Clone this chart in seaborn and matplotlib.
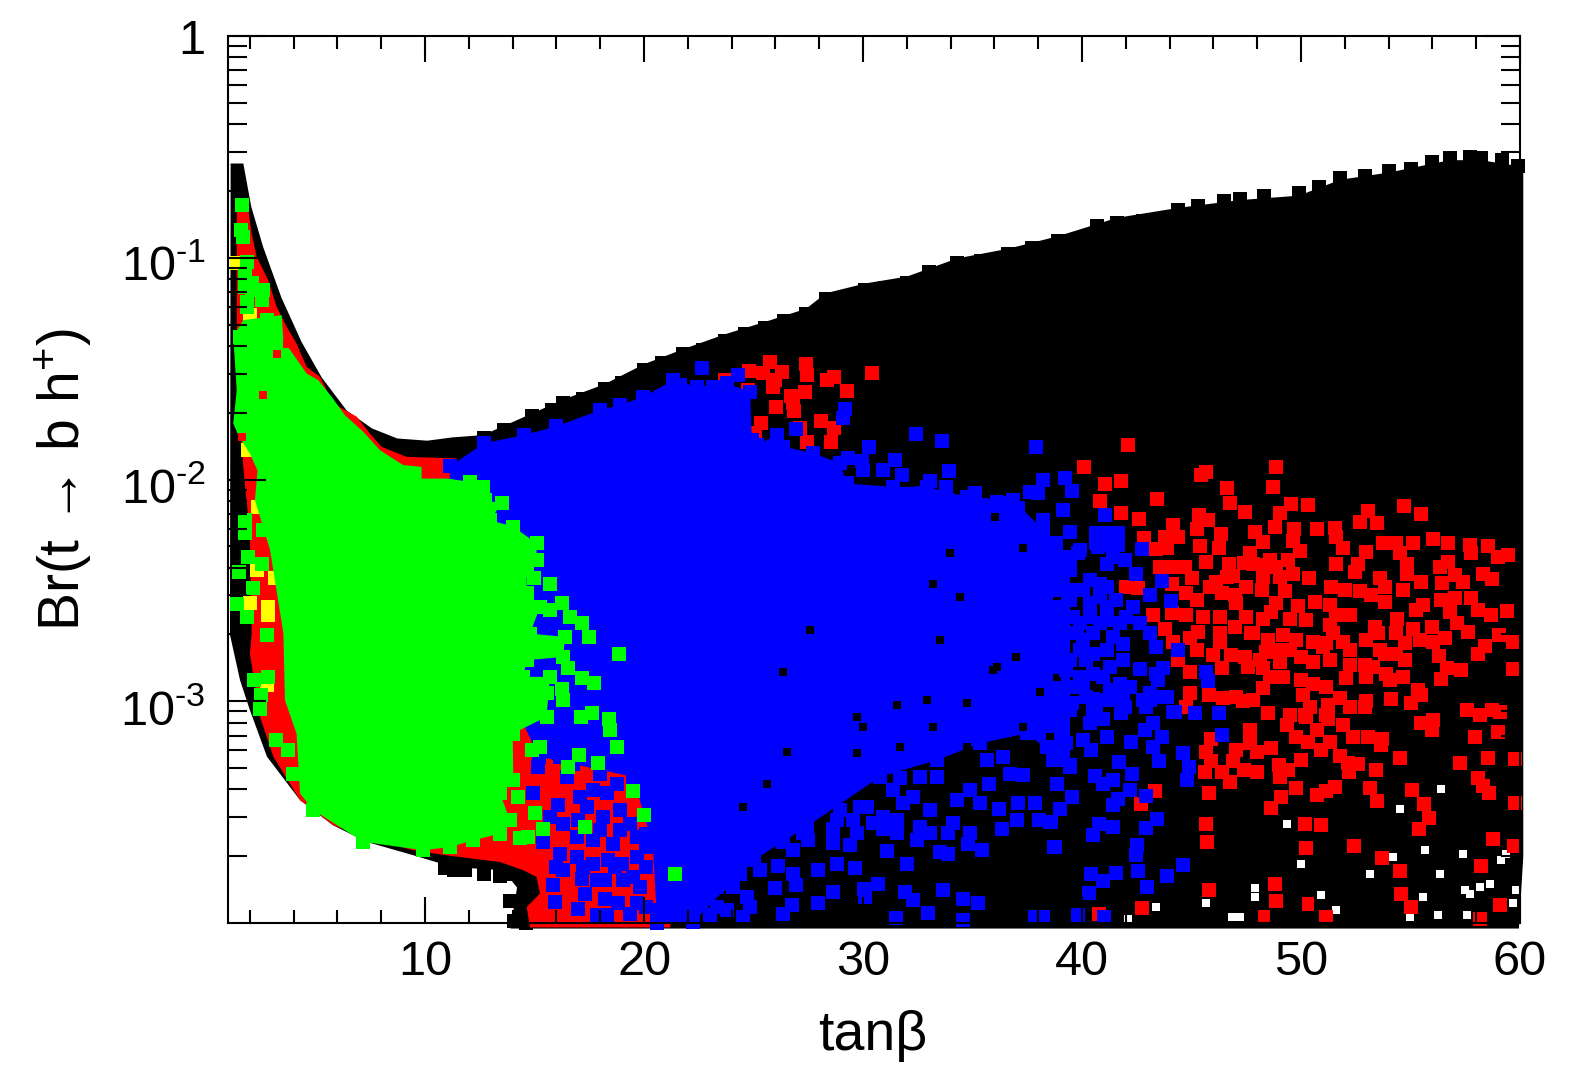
import numpy as np
import matplotlib
matplotlib.use("Agg")
import matplotlib.pyplot as plt
from matplotlib.ticker import FixedLocator, FixedFormatter, NullFormatter, LogLocator
from matplotlib.transforms import ScaledTranslation
import seaborn as sns

# all y values are log10(Br)

# filled outlines of the saturated regions
black_x = [1.12, 1.7, 2.06, 2.6, 3.44, 4.36, 5.28, 6.43, 7.58, 8.73, 10.1, 11.26, 12.64, 13.56, 14.94, 16.3, 18.2, 20, 21.85, 23.7, 25.5, 27.4, 28.3, 30.1, 32, 34.3, 36.6, 38.9, 41.6, 44.4, 47.2, 49.9, 51.8, 54, 56.8, 58.2, 60.15,
           60.15, 59.95, 13.9, 14.2, 13.56, 11.27, 9.45, 7.35, 5.79, 4.29, 2.78, 2.0, 1.55, 1.09]
black_logbr = [-0.575, -0.575, -0.769, -0.95, -1.18, -1.38, -1.54, -1.69, -1.77, -1.815, -1.825, -1.81, -1.80, -1.76, -1.70, -1.64, -1.57, -1.48, -1.41, -1.345, -1.29, -1.23, -1.16, -1.116, -1.085, -1.003, -0.96, -0.903, -0.82, -0.775, -0.74, -0.72, -0.648, -0.616, -0.56, -0.56, -0.59,
               -3.7, -4.025, -4.025, -3.84, -3.762, -3.748, -3.694, -3.635, -3.559, -3.446, -3.25, -3.04, -2.905, -2.70]

red_x = [1.4, 1.93, 2.08, 2.31, 2.84, 3.22, 3.68, 4.13, 4.59, 5.2, 5.81, 6.88, 7.48, 8.02, 9.16, 11.44, 11.14, 14, 21.2, 21.2, 14.79, 14.64, 15.25, 15.09, 14.48, 13.42, 10.98, 9.46, 7.18, 5.81, 4.29, 3.07, 2.46, 2.0, 2.08, 2.0, 1.75, 1.4]
red_logbr = [-0.785, -0.785, -0.89, -0.996, -1.101, -1.221, -1.311, -1.387, -1.492, -1.537, -1.657, -1.717, -1.793, -1.853, -1.898, -1.905, -2.033, -2.4, -3.4, -4.02, -4.02, -3.928, -3.867, -3.792, -3.762, -3.725, -3.695, -3.672, -3.612, -3.559, -3.446, -3.25, -3.07, -2.785, -2.695, -2.243, -2.0, -1.6]

blue_x = [11.14, 12.7, 14.5, 16, 18, 18.9, 19.97, 21.34, 22.4, 23.77, 24.84, 24.92, 25.14, 26.06, 26.36, 27.73, 28.95, 29.25, 31.38, 32.9, 34.73, 36.86, 38.23, 39.45,
          39.45, 37.47, 35.34, 33.36, 30.77, 27.42, 25, 22.25, 20.6, 20.4, 19.5, 15.2, 14, 11]
blue_logbr = [-1.94, -1.836, -1.8, -1.76, -1.687, -1.664, -1.627, -1.552, -1.582, -1.567, -1.604, -1.822, -1.845, -1.8, -1.852, -1.882, -1.927, -2.018, -2.033, -2.033, -2.078, -2.093, -2.228, -2.349,
              -3.296, -3.145, -3.19, -3.266, -3.341, -3.566, -3.717, -3.995, -4.0, -3.65, -3.341, -3.25, -3.0, -2.5]

green_x = [1.7, 3.45, 3.53, 4.06, 4.59, 5.12, 5.73, 6.34, 7.18, 7.94, 9, 9.84, 9.84, 11.06, 12.05, 12.66, 12.73, 13.5, 12.96, 14.03, 15.09, 15.09, 14.64, 14.64, 15.25, 14.79, 16.39, 16.31, 14.64, 14.48, 15.7, 15.55, 14, 14.03, 13.42, 13.88, 13.42, 12.2, 11.14, 9.92, 7.18, 4.9, 4.29, 4.13, 3.6, 3.53, 2.92, 2.23, 2.35, 2.0, 1.47, 1.24, 1.4, 1.24]
green_logbr = [-1.281, -1.259, -1.372, -1.447, -1.522, -1.552, -1.627, -1.71, -1.785, -1.868, -1.935, -1.943, -1.996, -1.996, -2.011, -2.033, -2.093, -2.108, -2.183, -2.213, -2.288, -2.364, -2.409, -2.514, -2.574, -2.695, -2.71, -2.8, -2.815, -2.89, -2.89, -3.07, -3.146, -3.356, -3.416, -3.537, -3.597, -3.627, -3.657, -3.672, -3.634, -3.491, -3.416, -3.146, -2.995, -2.694, -2.318, -2.093, -1.96, -1.883, -1.8, -1.747, -1.597, -1.357]

# jagged rim of the black band, upper side and the lower left clump
rim_x = [12.7, 13.6, 14.9, 15.8, 16.3, 17.2, 18.2, 19, 20, 20.8, 21.8, 22.7, 23.7, 24.6, 25.5, 26.4, 27.4, 28.3, 29.2, 30.1, 31, 32, 33, 34.3, 35.4, 36.6, 37.7, 38.9, 39.8, 40.7, 41.6, 42.8, 44.4, 45.3, 46.5, 47.2, 48.3, 49.9, 50.8, 51.8, 52.9, 54, 55, 56, 56.8, 57.7, 58.2, 59.2, 59.9,
         14, 14.4, 13.9, 14.5, 14.05, 14.6, 12.7, 11.8, 11.3, 10.9, 13.4]
rim_logbr = [-1.815, -1.775, -1.715, -1.685, -1.655, -1.635, -1.59, -1.565, -1.505, -1.475, -1.435, -1.415, -1.375, -1.345, -1.315, -1.285, -1.255, -1.185, -1.175, -1.145, -1.135, -1.115, -1.065, -1.025, -1.015, -0.985, -0.955, -0.925, -0.915, -0.855, -0.845, -0.835, -0.785, -0.765, -0.745, -0.735, -0.72, -0.71, -0.68, -0.64, -0.63, -0.61, -0.60, -0.57, -0.55, -0.545, -0.55, -0.56, -0.585,
             -3.78, -3.79, -3.9, -3.9, -3.99, -4.0, -3.78, -3.76, -3.76, -3.75, -3.79]

# holes in the black cloud, bottom right
hole_x = [54.51, 49.34, 47.89, 47.89, 45.68, 46.83, 47.2, 50, 53.14, 54.2, 57.4, 55.58, 56.34, 57.71, 58.62, 59.38, 59.69, 59.8, 57.56, 56.26, 54.97, 51.62, 50.93, 43.4, 42.11, 56.41, 55.65, 59.15, 58.16, 57.48]
hole_logbr = [-3.484, -3.555, -3.882, -3.84, -3.912, -3.973, -3.973, -3.732, -3.777, -3.702, -3.687, -3.882, -3.777, -3.867, -3.822, -3.687, -3.912, -3.85, -3.965, -3.965, -3.973, -3.943, -3.875, -3.928, -3.98, -3.394, -3.669, -3.717, -3.837, -3.852]

red_pts_x = [42.12, 40.10, 41.07, 41.8, 40.8, 43.43, 41.8, 42.6, 45.65, 45.45, 48.88, 48.7, 46.64, 46.76, 47.46, 49.52, 50.33, 49.03, 48.8, 49.69, 50.74, 53.08, 54.71, 55.5, 52.69, 53.48, 51.54, 51.62, 55.12, 54.36, 53.75, 56.03, 56.72, 57.7, 58.54, 59.46, 57.74, 59, 44.16, 44.39, 43.78, 45.33, 45.76, 45.23, 46.34, 45.38, 46.26, 47.89, 48.27, 47.66, 49.64, 49.95, 43.4, 43.86, 42.82, 45.64, 46.7, 47.4, 48.27, 49.41, 48.88, 51.62, 52.6, 52.46, 52.99, 51.92, 54.51, 54.82, 54.82, 56.34, 56.72, 57.02, 57.4, 56.45, 58.32, 58.74, 50.36, 49.64, 49.03, 43.55, 44.16, 44.69, 45, 44.09, 42.03, 42.56, 46.14, 46.9, 46.37, 46.98, 47.51, 48.23, 49.26, 51.39, 52, 52.69, 53.6, 53.83, 53.2, 54.66, 55.5, 53.83, 55.58, 55.23, 56.41, 57.02, 56.8, 57.78, 58.09, 58.67, 59.41, 57.13, 57.64, 54.39, 55.12, 55.96, 55.43, 56.03, 56.57, 59.05, 59.66, 58.42, 58.09, 56.29, 56.67, 57.31, 56.37, 59.69, 51.62, 52.23, 51.32, 50.63, 49.84, 48.88, 48.65, 48.27, 50.22, 49.49, 51.32, 53.37, 54.36, 53.52, 52.99, 54.74, 51.92, 51.16, 50.55, 49.79, 49.19, 48.5, 48.42, 47.72, 46.98, 46.3, 45.53, 44.77, 44.09, 43.25, 43.78, 44.92, 45.3, 46.3, 46.32, 44.16, 45.23, 45.99, 46.82, 47.43, 46.37, 47.59, 48.27, 49.03, 50, 50.55, 51.32, 52.23, 52.92, 52.23, 53.83, 54.74, 53.9, 54.66, 54.05, 52.99, 52.04, 44.92, 44.39, 48.58, 48.27, 49.19, 50, 50.55, 51.16, 50.1, 51.77, 55.32, 55.5, 54.09, 55.04, 44.92, 45.79, 46.45, 47.05, 47.36, 47.81, 44.77, 52.23, 52.92, 50.4, 51.24, 48.48, 49.5, 50.17, 51.16, 57.56, 58.17, 58.7, 59.08, 52.99,
             47.66, 55.5, 56.03, 55.96, 57.94, 59, 49.34, 50.25, 51.24, 51.92, 50.71, 49.79, 50.33, 51.32, 52.38, 53.07, 53.72, 53.64, 50.89, 48.62, 47.97, 47.66, 47.05, 45.68, 45.91, 45.88, 46.9, 47.39, 46.37, 45.61, 46.76, 51.8, 52.15, 52.61, 52.18, 49.98, 48.99, 48, 49.4, 49.03, 53.42, 54.51, 57.25, 58.55, 58.06, 58.32, 58.59, 59.76, 59.76, 49.76, 51.54, 51.16, 50.75, 53.14, 53.48, 55.09, 55.62, 55.84, 55.4, 49.09, 48.62, 45.8, 43.34, 42.67, 45.68, 45.71, 50.17, 50.93, 50.22, 52.41, 53.7, 54.54, 58.77, 59.72, 58.2, 48.83, 48.88, 45.8, 54.56, 55.04, 50.28, 59.08, 42.73, 40.78, 48.27, 51.16, 58.16,
             24.81, 25.75, 25.45, 26.29, 25.98, 25.9, 27.38, 27.43, 23.7, 28.34, 28.69, 30.43, 29.28, 27.35, 24.76, 26.71, 26.01, 26.82, 26.86, 25.33, 28.07, 28.68, 28.54, 25.07, 27.12, 27.43, 26.9, 40.1,
             47.81, 48.58, 48.27, 46.6, 45.84, 44.77, 45.23, 47.05, 47.51, 47.81, 48.88, 48.12, 49.49, 51.01, 53.6, 54.36, 53.29, 51.47]
red_pts_logbr = [-1.845, -1.943, -2.021, -2.007, -2.099, -2.087, -2.153, -2.18, -1.965, -1.98, -1.945, -2.036, -2.04, -2.108, -2.148, -2.11, -2.114, -2.153, -2.213, -2.224, -2.221, -2.141, -2.118, -2.157, -2.19, -2.195, -2.22, -2.258, -2.285, -2.285, -2.288, -2.269, -2.285, -2.296, -2.3, -2.341, -2.33, -2.351, -2.206, -2.258, -2.258, -2.16, -2.183, -2.225, -2.248, -2.3, -2.308, -2.236, -2.281, -2.333, -2.276, -2.321, -2.315, -2.311, -2.266, -2.371, -2.383, -2.376, -2.386, -2.363, -2.394, -2.382, -2.379, -2.416, -2.326, -2.311, -2.333, -2.379, -2.424, -2.394, -2.371, -2.431, -2.464, -2.466, -2.424, -2.449, -2.442, -2.424, -2.439, -2.394, -2.394, -2.394, -2.446, -2.469, -2.484, -2.491, -2.464, -2.436, -2.514, -2.521, -2.484, -2.499, -2.502, -2.484, -2.499, -2.502, -2.446, -2.484, -2.521, -2.499, -2.461, -2.551, -2.567, -2.589, -2.544, -2.536, -2.596, -2.536, -2.589, -2.609, -2.594, -2.649, -2.687, -2.631, -2.676, -2.667, -2.724, -2.732, -2.717, -2.702, -2.732, -2.751, -2.785, -2.795, -2.852, -2.86, -2.9, -2.855, -2.612, -2.612, -2.567, -2.554, -2.571, -2.559, -2.597, -2.631, -2.634, -2.627, -2.657, -2.664, -2.694, -2.694, -2.724, -2.739, -2.732, -2.739, -2.732, -2.724, -2.702, -2.724, -2.777, -2.694, -2.664, -2.619, -2.619, -2.612, -2.604, -2.612, -2.672, -2.717, -2.687, -2.694, -2.732, -2.732, -2.769, -2.792, -2.792, -2.8, -2.852, -2.845, -2.852, -2.822, -2.8, -2.822, -2.815, -2.837, -2.837, -2.77, -2.785, -2.815, -2.875, -2.89, -2.905, -2.89, -2.894, -2.867, -2.815, -2.89, -2.942, -2.89, -2.905, -2.92, -2.935, -2.972, -2.987, -2.95, -2.972, -2.99, -3.01, -2.965, -2.972, -2.987, -2.98, -3.0, -2.995, -3.025, -3.025, -3.028, -3.025, -3.017, -3.055, -3.063, -3.063, -3.063, -3.04, -3.063, -3.04, -3.047, -3.0,
                 -3.13, -3.1, -3.085, -3.13, -3.16, -3.138, -3.108, -3.07, -3.078, -3.108, -3.13, -3.16, -3.183, -3.183, -3.16, -3.16, -3.168, -3.198, -3.221, -3.213, -3.228, -3.19, -3.221, -3.228, -3.168, -3.27, -3.27, -3.311, -3.321, -3.319, -3.364, -3.248, -3.278, -3.285, -3.319, -3.266, -3.288, -3.319, -3.311, -3.341, -3.311, -3.258, -3.278, -3.255, -3.346, -3.383, -3.412, -3.261, -3.457, -3.389, -3.386, -3.406, -3.421, -3.389, -3.449, -3.401, -3.464, -3.526, -3.577, -3.434, -3.482, -3.413, -3.404, -3.464, -3.552, -3.634, -3.555, -3.558, -3.66, -3.654, -3.709, -3.765, -3.622, -3.652, -3.743, -3.822, -3.9, -3.852, -3.867, -3.928, -3.916, -3.92, -3.932, -3.958, -3.973, -3.973, -3.98,
                 -1.509, -1.469, -1.521, -1.514, -1.552, -1.582, -1.481, -1.529, -1.552, -1.552, -1.536, -1.52, -1.6, -1.604, -1.597, -1.622, -1.675, -1.657, -1.691, -1.743, -1.737, -1.767, -1.83, -1.792, -1.77, -1.83, -1.935, -1.943,
                 -2.379, -2.363, -2.439, -2.439, -2.484, -2.514, -2.544, -2.559, -2.619, -2.694, -2.77, -2.815, -2.77, -2.755, -2.77, -2.785, -2.845, -2.694]

yellow_x = [2.39, 2.0, 2.84, 2.84, 2.31, 3.15, 2.77, 13.27, 1.93, 1.4, 2.0]
yellow_logbr = [-2.123, -2.559, -2.574, -2.612, -2.409, -2.446, -2.927, -2.153, -1.865, -1.023, -1.259]

# black gaps left inside the blue mass
gap_x = [27.58, 26.36, 35.95, 37, 33.51, 38.84, 38.08, 32.9, 34.73, 31.53, 30, 29.71, 33.21, 37.32, 31.69, 29.71, 26.51, 34.73, 36.1, 38.53, 24.53, 25.6, 33.97, 36.03, 37.32, 38.84, 34.43, 33.21]
gap_logbr = [-2.679, -2.867, -2.86, -2.8, -2.724, -2.89, -2.957, -2.995, -3.01, -3.017, -3.115, -3.07, -3.115, -3.115, -3.205, -3.235, -3.228, -3.205, -2.845, -3.16, -3.476, -3.371, -2.33, -2.168, -2.311, -2.544, -2.529, -2.469]

blue_pts_x = [46.25, 45.18, 46.37, 44.62, 44.89, 44.8, 43.52, 42.29, 41.68, 42.23, 43.25, 43.63, 42.87, 41.42, 40.96, 40.58, 42.18, 42.9, 41.62, 41.42, 39.52, 38.99, 38.6, 43.43, 42.94, 40.78, 41.42, 40.51, 42.49, 42.46, 38.76, 44.59, 42.56, 43.89, 41.57, 40.97, 40.4, 42.97, 40.31, 39.82, 41, 39.44, 38.83, 39.29, 40.05, 40.43, 41.12, 40.36, 40.97, 39.52, 40.51, 41.57, 41.88, 43.1, 43.86, 44.24, 43.25, 38.91, 39.14,
              39.21, 39.52, 39.11, 41.04, 39.44, 42.76, 43.66, 43.1, 44.07, 42.46, 44.36, 42.64, 43.4, 45.68, 45.76, 40.66, 41.19, 41.65, 40.66, 41.19, 41.65, 41.42, 41.95, 41.12, 38.83, 39.82, 39.29, 39.44, 40.36, 40.81, 40.05, 40.81, 41.57, 38.99, 39.44, 42.34, 42.03, 41.12, 40.36, 39.6, 38.83, 42.64, 43.1, 41.88, 41.42, 40.51, 39.75, 38.99, 40.51, 39.9, 39.14, 41.88, 41.27, 40.51, 39.9, 39.29, 38.68, 41.73, 42.18, 41.27, 40.2, 39.44, 38.83, 43.1, 43.71, 43.4, 43.71, 43.48, 42.94, 41.95, 40.97, 44.16, 41.8, 40.51,
              38.68, 39.6, 41.12, 40.36, 41.12, 38.99, 39.9, 40.81, 41.73, 39.14, 40.05, 41.12, 39.44, 40.2, 40.97, 40.05, 41.88, 40.66, 39.44, 42.79,
              35.76, 36.22, 37.09, 37.85, 37.01, 36.36, 38.05, 38.53, 39, 38.84, 38.73, 35.41, 34.88, 34.81, 33.89, 33.51, 33.89, 32, 31.08, 29.63, 28.79, 27.96, 26.13, 26.81, 26.94, 25.98, 28.64, 27.96, 26.74, 26.36, 30.06, 30.67, 30.09, 31.91, 32.26, 33.66, 32.98, 34.58, 35.26, 31.49, 34.58, 37.85, 38.2, 31.69, 31.53, 31.56, 30.47, 30.92, 29.71, 29.4, 28.64, 28.64, 27.42, 27.5, 26.36, 25.6, 24.38, 24.68, 25.29, 24.38, 23.31, 23.77, 22.55, 22.55, 24.68, 24.84, 23.77, 24.53, 23, 22.25, 32.29, 32.6, 32.45, 33.06, 34.12, 34.27, 34.88, 35.34, 35.64, 36.71, 37.32, 38.69, 38.38, 36.4, 33.36, 32.6, 31.38, 29.86, 28.95, 28.03,
              25.29, 26.21, 26.81, 27.27, 28.03, 28.79, 29.55, 30.16, 30.92, 31.84, 33.06, 23.47, 22.7, 23.47, 24.08, 21.94, 21.18, 20.57, 21.94, 23.31, 24.08,
              22.63, 24.31, 21.64, 23.13, 23.7, 24.54, 29.18, 29.1, 26.94, 32.4, 33.59, 30.27, 37.9, 29.3, 29.94, 31.46, 33.94, 30.01, 30.93, 31.76, 33.06, 33.77, 32.68, 35.11, 36.1, 38.23, 37.62, 38, 39.22, 39.53, 37.09, 39.12, 38.23, 39.45, 40.67, 40.74, 39.91, 36.41, 33.82,
              14.94, 16.08, 15.7, 16.31, 17, 15.4, 16.16, 16, 16.92, 15.85, 15.93, 17, 17.83, 18.22, 17.15, 17.68, 18.37, 18.98, 18.22, 19.05, 18.82, 19.66, 19.81, 19.66, 19.66, 18.59, 17.68, 18.14, 17.07, 18.29, 17.68, 19.36, 16.46, 16.16, 15.17,
              17.3, 20.1, 20.1, 20.1, 19.36, 18.29, 16.31, 17.22, 18.67, 17.83, 19.51, 20.1, 18.9, 17.99, 16.92, 18.9, 17.38, 18.75, 16.77, 17.99, 19.36, 19.97]
blue_pts_logbr = [-3.055, -3.055, -3.153, -3.233, -3.296, -3.356, -3.269, -3.326, -3.276, -3.186, -3.206, -3.161, -3.131, -3.356, -3.371, -3.337, -3.401, -3.427, -3.442, -3.469, -3.431, -3.487, -3.544, -3.529, -3.57, -3.552, -3.567, -3.604, -3.649, -3.694, -3.657, -3.74, -3.765, -3.789, -3.774, -3.81, -3.779, -3.837, -3.863, -3.962, -3.973, -3.288, -3.266, -3.19, -3.176, -3.221, -3.161, -3.1, -3.078, -3.01, -2.988, -2.995, -2.95, -2.995, -2.98, -3.048, -3.1, -3.1, -2.98,
                  -1.991, -2.051, -2.138, -2.158, -2.236, -2.315, -2.458, -2.52, -2.548, -2.427, -2.767, -2.855, -2.755, -2.87, -2.909, -2.243, -2.243, -2.243, -2.288, -2.296, -2.296, -2.349, -2.364, -2.379, -2.288, -2.333, -2.364, -2.409, -2.454, -2.469, -2.499, -2.529, -2.544, -2.499, -2.544, -2.574, -2.619, -2.634, -2.619, -2.619, -2.604, -2.649, -2.694, -2.74, -2.709, -2.694, -2.694, -2.679, -2.785, -2.77, -2.77, -2.815, -2.845, -2.875, -2.89, -2.86, -2.845, -2.92, -2.935, -2.95, -2.98, -2.935, -2.965, -2.965, -2.98, -2.875, -2.852, -2.905, -3.025, -3.025, -2.995, -3.048, -3.055, -3.055,
                  -2.454, -2.499, -2.484, -2.559, -2.574, -2.574, -2.649, -2.649, -2.649, -2.709, -2.724, -2.77, -2.815, -2.815, -2.89, -2.935, -2.995, -3.025, -3.04, -2.995,
                  -3.371, -3.484, -3.461, -3.458, -3.536, -3.578, -3.536, -3.544, -3.488, -3.371, -3.657, -3.672, -3.596, -3.645, -3.596, -3.679, -3.687, -3.736, -3.676, -3.754, -3.732, -3.762, -3.744, -3.777, -3.829, -3.841, -3.86, -3.909, -3.92, -3.96, -3.845, -3.825, -3.882, -3.86, -3.897, -3.849, -3.957, -3.894, -3.909, -3.977, -3.987, -3.972, -3.972, -3.348, -3.596, -3.536, -3.551, -3.574, -3.596, -3.649, -3.641, -3.574, -3.551, -3.627, -3.634, -3.626, -3.626, -3.709, -3.762, -3.777, -3.837, -3.822, -3.784, -3.882, -3.882, -3.927, -3.942, -3.972, -3.965, -3.942, -3.431, -3.566, -3.626, -3.491, -3.551, -3.446, -3.401, -3.461, -3.266, -3.326, -3.333, -3.266, -3.205, -3.25, -3.341, -3.341, -3.401, -3.476, -3.491, -3.446,
                  -3.611, -3.596, -3.672, -3.596, -3.476, -3.536, -3.536, -3.476, -3.521, -3.461, -3.596, -3.807, -3.717, -3.717, -3.687, -3.822, -3.897, -3.942, -3.957, -3.927, -3.837,
                  -1.499, -1.529, -1.574, -1.582, -1.589, -1.642, -1.682, -1.724, -1.774, -1.794, -1.828, -1.852, -1.852, -1.905, -1.915, -1.912, -1.961, -1.958, -1.958, -1.98, -2.006, -2.036, -2.063, -2.063, -2.1, -2.003, -2.055, -2.063, -1.995, -2.051, -2.127, -2.138, -2.183, -2.236, -2.246, -2.303, -2.318, -2.108, -2.138,
                  -3.416, -3.469, -3.522, -3.552, -3.537, -3.634, -3.687, -3.747, -3.702, -3.83, -3.905, -3.935, -3.965, -3.89, -3.8, -3.732, -3.717, -3.732, -3.807, -3.807, -3.912, -3.912, -3.837, -3.702, -3.612, -3.642, -3.627, -3.522, -3.431, -3.416, -3.401, -3.552, -3.341, -3.251, -3.296,
                  -3.867, -3.747, -3.597, -3.927, -3.958, -3.965, -3.762, -3.747, -3.747, -3.807, -3.792, -3.657, -3.582, -3.582, -3.612, -3.491, -3.476, -3.371, -3.281, -3.326, -3.296, -3.386]

green_pts_x = [1.62, 1.58, 1.7, 1.85, 1.78, 2.08, 2.54, 1.85, 2.08, 2.61, 1.78, 1.85, 2.76, 1.55, 1.7,
               14.97, 15.7, 16.24, 15.7, 16.61, 17.18, 17.48, 18.87, 16.54, 17.15, 17.73, 16.24, 15.55, 16.31, 17.6, 17.12, 18.38, 18.44, 18.78, 17.04, 16.54, 17.91, 15.25, 14.87, 19.51, 19.99, 14.26, 15, 17.3, 15.4, 14.33, 14.71, 21.41,
               1.93, 2.54, 2.16, 1.4, 1.85, 2.77, 2.2, 2.84, 2.51, 2.46, 3.19, 3.75, 3.98, 1.78, 1.78, 2.61, 1.52]
green_pts_logbr = [-0.763, -0.875, -0.905, -1.018, -1.078, -1.146, -1.191, -1.199, -1.116, -1.146, -1.13, -1.221, -1.281, -1.357, -1.432,
                   -2.442, -2.469, -2.556, -2.589, -2.619, -2.649, -2.71, -2.789, -2.852, -2.894, -2.917, -2.947, -2.965, -2.995, -3.055, -3.073, -3.082, -3.128, -3.206, -3.243, -3.296, -3.277, -3.206, -3.218, -3.406, -3.514, -3.431, -3.506, -3.567, -3.574, -3.615, -3.612, -3.777,
                   -2.349, -2.379, -2.491, -2.562, -2.619, -2.702, -2.905, -2.89, -2.973, -3.037, -3.176, -3.221, -3.326, -2.183, -2.243, -2.228, -2.416]

# red patches left showing through the green
red_gap_x = [3.22, 3.7, 1.62, 2.6]
red_gap_logbr = [-1.432, -1.39, -1.808, -1.62]

y_major = [1e-3, 1e-2, 1e-1, 1]
y_labels = ["$10^{\\text{-}3}$", "$10^{\\text{-}2}$", "$10^{\\text{-}1}$", "1"]

sns.set_theme(style="ticks")
plt.rcParams["font.family"] = ["Liberation Sans", "DejaVu Sans"]
plt.rcParams["mathtext.fontset"] = "custom"
plt.rcParams["mathtext.rm"] = "Liberation Sans"
plt.rcParams["mathtext.default"] = "rm"

fig = plt.figure(figsize=(15.8, 10.8), dpi=100)
ax = fig.add_axes([228 / 1580, 1 - 923 / 1080, 1292 / 1580, 887 / 1080])
ax.set_xlim(1, 60)
ax.set_ylim(1e-4, 1)
ax.set_yscale("log")


def region(x, logbr, color):
    ax.fill(x, 10.0 ** np.array(logbr), color=color, linewidth=0, clip_on=False)


def points(x, logbr, color, size=100):
    sns.scatterplot(x=np.array(x), y=10.0 ** np.array(logbr), marker="s", s=size, color=color,
                    linewidth=0, clip_on=False, legend=False, ax=ax)


region(black_x, black_logbr, "#000000")
points(rim_x, rim_logbr, "#000000")
points(hole_x, hole_logbr, "#ffffff", size=30)
region(red_x, red_logbr, "#ff0000")
points(red_pts_x, red_pts_logbr, "#ff0000")
points(yellow_x, yellow_logbr, "#ffff00")
region(blue_x, blue_logbr, "#0000ff")
points(blue_x, blue_logbr, "#0000ff")
points(gap_x, gap_logbr, "#000000", size=30)
points(blue_pts_x, blue_pts_logbr, "#0000ff")
region(green_x, green_logbr, "#00ff00")
# blocky corners only on the right hand side, the red band stays visible on the left
points(green_x[14:42], green_logbr[14:42], "#00ff00")
points(green_pts_x, green_pts_logbr, "#00ff00")
points(red_gap_x, red_gap_logbr, "#ff0000", size=40)

ax.set_xlim(1, 60)
ax.set_ylim(1e-4, 1)
ax.set_axisbelow(False)

# frame and ticks, mirrored on all four sides
ax.xaxis.set_major_locator(FixedLocator([10, 20, 30, 40, 50, 60]))
ax.xaxis.set_minor_locator(FixedLocator([2, 4, 6, 8, 12, 14, 16, 18, 22, 24, 26, 28, 32, 34, 36, 38, 42, 44, 46, 48, 52, 54, 56, 58]))
ax.xaxis.set_minor_formatter(NullFormatter())
ax.yaxis.set_major_locator(FixedLocator(y_major))
ax.yaxis.set_major_formatter(FixedFormatter(y_labels))
ax.yaxis.set_minor_locator(LogLocator(base=10, subs=range(2, 10), numticks=10))
ax.yaxis.set_minor_formatter(NullFormatter())
ax.tick_params(axis="both", which="major", direction="in", top=True, right=True, width=1.5, color="black", labelsize=35, labelcolor="black")
ax.tick_params(axis="x", which="major", length=19, pad=12)
ax.tick_params(axis="y", which="major", length=27, pad=16)
ax.tick_params(axis="x", which="minor", direction="in", top=True, length=9.5, width=1.5, color="black")
ax.tick_params(axis="y", which="minor", direction="in", right=True, length=14, width=1.5, color="black")
for spine in ax.spines.values():
    spine.set_linewidth(1.5)
    spine.set_color("black")
    spine.set_zorder(5)

# exponent labels sit a little lower than the tick
for label in ax.get_yticklabels()[:3]:
    label.set_transform(label.get_transform() + ScaledTranslation(0, -4 / 72, fig.dpi_scale_trans))

ax.set_xlabel("tanβ", fontsize=40, color="black")
ax.xaxis.set_label_coords(0.499, -0.098)
ax.set_ylabel("Br(t → b h$^{+}$)", fontsize=41, color="black")
ax.yaxis.set_label_coords(-0.104, 0.5)

fig.savefig("out.png", dpi=100)
